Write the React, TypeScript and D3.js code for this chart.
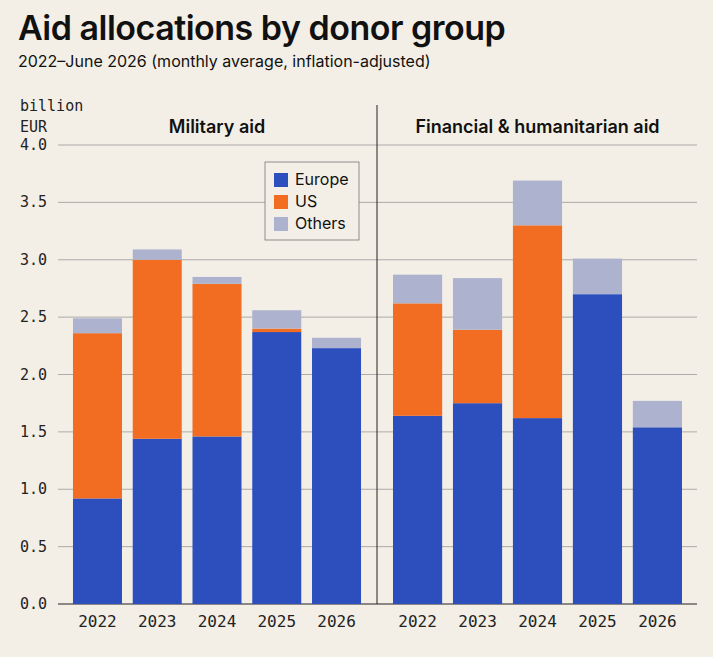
import React, { useEffect, useRef } from "react";
import * as d3 from "d3";

const years = ["2022", "2023", "2024", "2025", "2026"];
const militaryEurope = [0.92, 1.44, 1.46, 2.37, 2.23];
const militaryUS = [1.44, 1.56, 1.33, 0.03, 0];
const militaryOthers = [0.13, 0.09, 0.06, 0.16, 0.09];
const financialEurope = [1.64, 1.75, 1.62, 2.7, 1.54];
const financialUS = [0.98, 0.64, 1.68, 0, 0];
const financialOthers = [0.25, 0.45, 0.39, 0.31, 0.23];
const yTicks = [0, 0.5, 1, 1.5, 2, 2.5, 3, 3.5, 4];
const seriesNames = ["Europe", "US", "Others"];
const colors = ["#2c4fbd", "#f26c22", "#adb3cf"];

const App = () => {
  const ref = useRef<SVGSVGElement>(null);

  useEffect(() => {
    if (!ref.current) return;
    const svg = d3.select(ref.current);
    svg.selectAll("*").remove();
    const W = 713, H = 657;
    svg.append("rect").attr("width", W).attr("height", H).attr("fill", "#f3efe6");

    const y = d3.scaleLinear().domain([0, 4]).range([604, 145]);
    const sans = "Inter, 'Noto Sans', sans-serif";
    const mono = "'DejaVu Sans Mono', monospace";

    // grid
    svg.selectAll(".grid").data(yTicks).enter().append("line")
      .attr("x1", 58).attr("x2", 697)
      .attr("y1", d => y(d)).attr("y2", d => y(d))
      .attr("stroke", d => (d === 0 ? "#222" : "#999")).attr("stroke-width", d => (d === 0 ? 1.2 : 0.8));
    svg.selectAll(".ytl").data(yTicks).enter().append("text")
      .attr("x", 20).attr("y", d => y(d) + 5)
      .attr("font-family", mono).attr("font-size", 15).attr("fill", "#222")
      .text(d => d.toFixed(1));
    svg.append("text").attr("x", 20).attr("y", 111).attr("font-family", mono).attr("font-size", 15).attr("fill", "#222").text("billion");
    svg.append("text").attr("x", 20).attr("y", 132).attr("font-family", mono).attr("font-size", 15).attr("fill", "#222").text("EUR");

    svg.append("line").attr("x1", 377).attr("x2", 377).attr("y1", 105).attr("y2", 604).attr("stroke", "#222").attr("stroke-width", 1);

    const panels = [
      { title: "Military aid", range: [67, 367], data: [militaryEurope, militaryUS, militaryOthers] },
      { title: "Financial & humanitarian aid", range: [387, 688], data: [financialEurope, financialUS, financialOthers] },
    ];
    panels.forEach(p => {
      const x = d3.scaleBand().domain(years).range(p.range as [number, number]).paddingInner(0.18).paddingOuter(0.1);
      const rows = years.map((yr, i) => ({ year: yr, Europe: p.data[0][i], US: p.data[1][i], Others: p.data[2][i] }));
      const stack = d3.stack<any>().keys(seriesNames)(rows);
      stack.forEach((s, si) => {
        svg.append("g").selectAll("rect").data(s).enter().append("rect")
          .attr("x", d => x(d.data.year)!).attr("width", x.bandwidth())
          .attr("y", d => y(d[1])).attr("height", d => y(d[0]) - y(d[1]))
          .attr("fill", colors[si]);
      });
      svg.append("g").selectAll("text").data(years).enter().append("text")
        .attr("x", d => x(d)! + x.bandwidth() / 2).attr("y", 627).attr("text-anchor", "middle")
        .attr("font-family", mono).attr("font-size", 16).attr("fill", "#222").text(d => d);
      svg.append("text").attr("x", (p.range[0] + p.range[1]) / 2).attr("y", 133).attr("text-anchor", "middle")
        .attr("font-family", sans).attr("font-size", 18).attr("font-weight", 600).attr("fill", "#111").text(p.title);
    });

    // legend
    const lg = svg.append("g").attr("transform", "translate(265,162)");
    lg.append("rect").attr("width", 94).attr("height", 78).attr("fill", "#f3efe6").attr("stroke", "#777").attr("stroke-width", 0.8);
    seriesNames.forEach((n, i) => {
      lg.append("rect").attr("x", 9).attr("y", 11 + i * 22).attr("width", 14).attr("height", 14).attr("fill", colors[i]);
      lg.append("text").attr("x", 30).attr("y", 23 + i * 22).attr("font-family", sans).attr("font-size", 16).attr("fill", "#111").text(n);
    });

    svg.append("text").attr("x", 18).attr("y", 40).attr("font-family", sans).attr("font-size", 34).attr("font-weight", 600).attr("letter-spacing", -0.5).attr("fill", "#111").text("Aid allocations by donor group");
    svg.append("text").attr("x", 18).attr("y", 67).attr("font-family", sans).attr("font-size", 16).attr("fill", "#111").text("2022–June 2026 (monthly average, inflation-adjusted)");
  }, []);

  return <svg ref={ref} width={713} height={657} style={{ position: "absolute", left: 0, top: 0 }} />;
};

export default App;
